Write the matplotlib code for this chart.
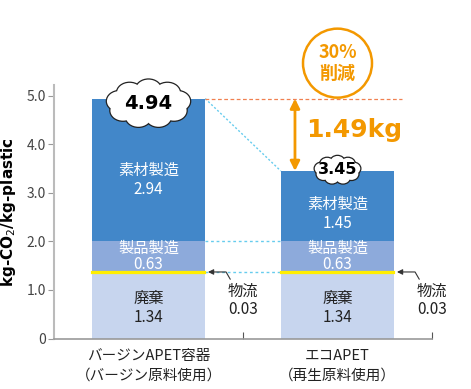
import matplotlib
matplotlib.use('Agg')
import matplotlib.pyplot as plt
from matplotlib.patches import Ellipse, Circle
from matplotlib.transforms import ScaledTranslation
import numpy as np

plt.rcParams['font.family'] = ['Noto Sans CJK JP', 'DejaVu Sans']

categories = ['バージンAPET容器\n（バージン原料使用）', 'エコAPET\n（再生原料使用）']
haiki = [1.34, 1.34]       # 廃棄
butsuryu = [0.03, 0.03]    # 物流
seihin = [0.63, 0.63]      # 製品製造
sozai = [2.94, 1.45]       # 素材製造
totals = [4.94, 3.45]
reduction = '1.49kg'
reduction_pct = '30%\n削減'

c_sozai = '#4287C9'
c_seihin = '#8DAADB'
c_haiki = '#C7D5EE'
c_butsu = '#FFEE00'
orange = '#F39800'

fig = plt.figure(figsize=(4.71, 3.89), dpi=100)
ax = fig.add_axes([54/471, 1 - 338.5/389, (432 - 54)/471, (338.5 - 85)/389])

x = np.arange(len(categories))
w = 0.6
b1 = np.array(haiki)
b2 = b1 + np.array(butsuryu)
b3 = b2 + np.array(seihin)

ax.bar(x, haiki, w, color=c_haiki, zorder=2)
ax.bar(x, butsuryu, w, bottom=b1, color=c_butsu, edgecolor=c_butsu, linewidth=1.6, zorder=3)
ax.bar(x, seihin, w, bottom=b2, color=c_seihin, zorder=2)
ax.bar(x, sozai, w, bottom=b3, color=c_sozai, zorder=2)

ax.set_xlim(-0.5, 1.5)
ax.set_ylim(0, 5.22)
ax.set_yticks([0, 1, 2, 3, 4, 5])
ax.set_yticklabels(['0', '1.0', '2.0', '3.0', '4.0', '5.0'], fontsize=10, color='#444444')
ax.set_xticks([0.5, 1.5])
ax.set_xticklabels([])
ax.tick_params(axis='x', length=5, color='#555555', direction='in')
ax.tick_params(axis='y', length=4, color='#999999', pad=2)
for s in ['top', 'right']:
    ax.spines[s].set_visible(False)
ax.spines['left'].set_color('#BBBBBB')
ax.spines['left'].set_linewidth(1.5)
ax.spines['bottom'].set_color('#999999')
ax.spines['bottom'].set_linewidth(1.2)

for i, lab in enumerate(categories):
    ax.text(x[i], -0.22, lab, ha='center', va='top', fontsize=10.5,
            linespacing=1.5, color='#222222')

ax.set_ylabel('kg-CO$_2$/kg-plastic', fontsize=11, fontweight='bold',
              family='DejaVu Sans', labelpad=6)

# segment labels
ax.text(x[0], b3[0] + sozai[0] * 0.43, '素材製造\n2.94', ha='center', va='center',
        color='white', fontsize=11, linespacing=1.1)
ax.text(x[1], b3[1] + sozai[1] * 0.39, '素材製造\n1.45', ha='center', va='center',
        color='white', fontsize=11, linespacing=1.1)
for i in range(2):
    ax.text(x[i], b2[i] + seihin[i] / 2, '製品製造\n%.2f' % seihin[i], ha='center',
            va='center', color='white', fontsize=11, linespacing=0.95)
    ax.text(x[i], haiki[i] / 2 - 0.04, '廃棄\n%.2f' % haiki[i], ha='center', va='center',
            color='#222222', fontsize=11, linespacing=1.1)

# logistics callouts
for i in range(2):
    xt = x[i] + w / 2
    ax.annotate('', xy=(xt, b2[i]), xytext=(xt + 0.14, b2[i] - 0.2),
                arrowprops=dict(arrowstyle='-|>', color='#333333', lw=0.8,
                                mutation_scale=8,
                                connectionstyle='angle,angleA=-60,angleB=0,rad=0'))
    ax.text(xt + 0.2, b2[i] - 0.58, '物流\n%.2f' % butsuryu[i], ha='center', va='center',
            color='#222222', fontsize=11, linespacing=1.1)

# guide lines between bars
ax.plot([x[0] + w / 2, x[1] - w / 2], [b3[0], b3[1]], ls=(0, (2, 2)), color='#66CCEE', lw=1, zorder=1)
ax.plot([x[0] + w / 2, x[1] - w / 2], [b2[0], b2[1]], ls=(0, (2, 2)), color='#66CCEE', lw=1, zorder=1)
ax.plot([x[0] + w / 2, x[1] - w / 2], [totals[0], totals[1]], ls=(0, (1.5, 1.5)), color='#66CCEE', lw=1, zorder=1)
ax.plot([x[0] + w / 2, x[1] + w / 2 + 0.04], [totals[0], totals[0]], ls=(0, (3, 2)),
        color='#F08050', lw=0.9, zorder=1)

# reduction arrow
xa = x[1] - w / 2 + 0.075
ax.annotate('', xy=(xa, totals[1]), xytext=(xa, totals[0]),
            arrowprops=dict(arrowstyle='<|-|>', color=orange, lw=2, mutation_scale=14,
                            shrinkA=0, shrinkB=0))
ax.text(xa + 0.06, (totals[0] + totals[1]) / 2 + 0.1, reduction, color=orange,
        fontsize=18, fontweight='bold', ha='left', va='center', family='DejaVu Sans')


def px_trans(xd, yd):
    return fig.dpi_scale_trans + ScaledTranslation(xd, yd, ax.transData)


def cloud(xd, yd, W, H, dy=0):
    # W, H in pixels; union of a core ellipse and bumps round its rim
    tr = px_trans(xd, yd)
    a, b = W / 2 * 0.70, H / 2 * 0.58
    rx, ry = W / 2 * 0.30, H / 2 * 0.42
    shapes = [((0, dy), 2 * a, 2 * b)]
    for ang in np.deg2rad(np.arange(10, 370, 40)):
        shapes.append(((a * np.cos(ang), dy + b * np.sin(ang)), 2 * rx, 2 * ry))
    for (cx, cy), ew, eh in shapes:
        ax.add_patch(Ellipse((cx / 100, cy / 100), ew / 100, eh / 100, transform=tr,
                             facecolor='white', edgecolor='#222222', lw=1.8,
                             zorder=6, clip_on=False))
    for (cx, cy), ew, eh in shapes:
        ax.add_patch(Ellipse((cx / 100, cy / 100), ew / 100, eh / 100, transform=tr,
                             facecolor='white', edgecolor='none', zorder=7, clip_on=False))


cloud(x[0], totals[0], 84, 48, dy=-5)
ax.annotate('%.2f' % totals[0], xy=(x[0], totals[0]), xytext=(0, -5), textcoords='offset pixels',
            ha='center', va='center', fontsize=14, fontweight='bold', zorder=8,
            family='DejaVu Sans')
cloud(x[1], totals[1], 46, 28, dy=1)
ax.annotate('%.2f' % totals[1], xy=(x[1], totals[1]), xytext=(0, 1), textcoords='offset pixels',
            ha='center', va='center', fontsize=11.5, fontweight='bold', zorder=8,
            family='DejaVu Sans')

# 30% circle
ax.add_patch(Circle((0, 0), 0.345, transform=px_trans(1.0, totals[0] + 0.73),
                    facecolor='white', edgecolor=orange, lw=1.8, clip_on=False, zorder=5))
ax.annotate(reduction_pct, xy=(1.0, totals[0] + 0.73), ha='center', va='center',
            color=orange, fontsize=13, fontweight='bold', linespacing=1.15, zorder=6,
            annotation_clip=False)

fig.savefig('out.png', dpi=100)
